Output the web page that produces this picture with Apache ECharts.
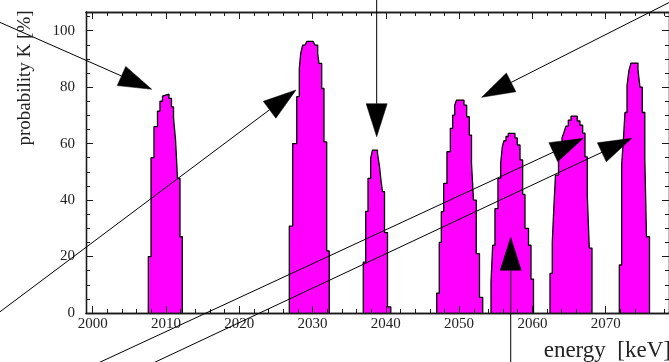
<!DOCTYPE html>
<html>
<head>
<meta charset="utf-8">
<script src="https://cdn.jsdelivr.net/npm/echarts@6/dist/echarts.min.js"></script>
<style>
html,body{margin:0;padding:0;background:#fff;}
#chart{width:669px;height:362px;}
</style>
</head>
<body>
<div id="chart"></div>
<script>
// ---- data (energy in keV, probability K in %) ----
const xTickLabels = [2000, 2010, 2020, 2030, 2040, 2050, 2060, 2070];
const yTickLabels = [0, 20, 40, 60, 80, 100];

const peak1Edges = [2007.59, 2007.96, 2008.36, 2008.84, 2009.18, 2009.52, 2009.73, 2010.41, 2010.75, 2011.03, 2011.30, 2011.57, 2011.91, 2012.23];
const peak1Heights = [20, 55, 66, 71.5, 75, 76.8, 77.5, 76, 73, 69, 61.5, 47.7, 27];

const peak2Edges = [2026.83, 2027.29, 2027.84, 2028.19, 2028.38, 2028.65, 2028.97, 2029.24, 2030.06, 2030.33, 2030.70, 2030.88, 2031.25, 2031.56, 2031.93, 2032.28];
const peak2Heights = [30.8, 60, 76.6, 86.6, 91.9, 94.9, 95.6, 96.2, 95.6, 94.9, 91.9, 88.4, 79.5, 60.6, 22];

const peak3Edges = [2036.92, 2037.25, 2037.57, 2037.93, 2038.18, 2038.86, 2039.13, 2039.34, 2039.54, 2039.82, 2040.23, 2040.68];
const peak3Heights = [18, 36, 47.7, 54.8, 57.7, 56.5, 52, 47, 43, 28.5, 2.2];

const peak4Edges = [2046.94, 2047.29, 2047.57, 2047.89, 2048.34, 2048.80, 2049.12, 2049.40, 2049.64, 2050.66, 2051.03, 2051.39, 2051.69, 2051.96, 2052.34, 2052.78, 2053.22];
const peak4Heights = [7, 25, 35.9, 45.9, 57.1, 65.4, 70.1, 73.6, 75.4, 73.6, 69.5, 63, 53, 40, 21, 5.5];

const peak5Edges = [2054.35, 2054.58, 2054.89, 2055.30, 2055.67, 2055.89, 2056.12, 2056.40, 2056.71, 2057.62, 2057.94, 2058.31, 2058.67, 2058.99, 2059.47, 2059.81, 2060.15];
const peak5Heights = [11, 24, 37, 47.7, 53, 58.9, 61, 62.5, 63.6, 62, 59.5, 54.2, 42, 30, 24, 12];

const peak6Edges = [2062.40, 2062.71, 2062.95, 2063.15, 2063.56, 2064.04, 2064.31, 2064.58, 2064.90, 2065.27, 2066.12, 2066.49, 2066.86, 2067.18, 2067.49, 2067.76, 2068.13];
const peak6Heights = [14, 25, 38.8, 48.8, 58.9, 62, 64, 66.2, 68.3, 69.7, 68, 66.5, 63.7, 55.3, 41.8, 23];

const peak7Edges = [2071.86, 2072.18, 2072.43, 2072.63, 2072.91, 2073.18, 2073.45, 2074.41, 2074.68, 2074.99, 2075.34, 2075.57, 2075.98];
const peak7Heights = [17, 52.5, 62, 71, 80.5, 86, 88.5, 86, 80, 71, 54.5, 27];

// annotation arrows: start and tip in data units (energy, probability)
const arrowStarts = [[1985.99, 104.48], [1986.67, -0.89], [2038.75, 112.62], [2080.14, 111.91], [2000.31, -18.24], [2007.82, -18.24], [2057.04, -18.42]];
const arrowTips   = [[2008.05, 79.22], [2027.74, 78.98], [2038.75, 62.44], [2053.08, 76.39], [2066.94, 61.87], [2073.55, 61.87], [2057.04, 26.81]];

const peaks = [
  [peak1Edges, peak1Heights], [peak2Edges, peak2Heights], [peak3Edges, peak3Heights],
  [peak4Edges, peak4Heights], [peak5Edges, peak5Heights], [peak6Edges, peak6Heights],
  [peak7Edges, peak7Heights]
];

// ---- chart ----
const X_MIN = 1999.086, X_MAX = 2078.64, Y_MIN = 0, Y_MAX = 106.6;
const FONT = '"Liberation Serif", "Times New Roman", serif';
const INK = '#1a1a1a';

// tick positions (major every 10 keV / 20 %, minor every 2 keV / 5 %)
const xMinorTicks = []; for (let v = 2000; v <= 2078; v += 2) xMinorTicks.push(v);
const yMinorTicks = []; for (let v = 0; v <= 105; v += 5) yMinorTicks.push(v);

// histogram outline: each bin gives a flat top from its left to right edge
function histPoints(edges, heights) {
  const pts = [[edges[0], 0]];
  for (let i = 0; i < heights.length; i++) {
    pts.push([edges[i], heights[i]]);
    pts.push([edges[i + 1], heights[i]]);
  }
  pts.push([edges[edges.length - 1], 0]);
  return pts;
}

function xAxisDef(pos, ticks, len, labels) {
  return {
    type: 'value', position: pos, min: X_MIN, max: X_MAX, z: 5,
    axisLine: { show: true, onZero: false, lineStyle: { color: INK, width: 1.3 } },
    axisTick: { show: true, inside: true, length: len, customValues: ticks, lineStyle: { color: INK, width: 1 } },
    axisLabel: labels ? {
      show: true, margin: 4, color: '#222', fontFamily: FONT, fontSize: 15,
      customValues: xTickLabels, formatter: v => String(Math.round(v))
    } : { show: false },
    splitLine: { show: false }
  };
}
function yAxisDef(pos, ticks, len, labels) {
  return {
    type: 'value', position: pos, min: Y_MIN, max: Y_MAX, z: 5,
    axisLine: { show: true, onZero: false, lineStyle: { color: INK, width: 1.3 } },
    axisTick: { show: true, inside: true, length: len, customValues: ticks, lineStyle: { color: INK, width: 1 } },
    axisLabel: labels ? {
      show: true, margin: 11, color: '#222', fontFamily: FONT, fontSize: 15,
      customValues: yTickLabels, formatter: v => String(Math.round(v))
    } : { show: false },
    splitLine: { show: false }
  };
}

const chart = echarts.init(document.getElementById('chart'), null, { renderer: 'canvas' });
chart.setOption({
  animation: false,
  backgroundColor: '#ffffff',
  grid: { left: 86, top: 12, width: 583, height: 301, containLabel: false },
  xAxis: [
    xAxisDef('bottom', xTickLabels, 7, true),
    xAxisDef('bottom', xMinorTicks, 4, false),
    xAxisDef('top', xTickLabels, 7, false),
    xAxisDef('top', xMinorTicks, 4, false)
  ],
  yAxis: [
    yAxisDef('left', yTickLabels, 7, true),
    yAxisDef('left', yMinorTicks, 4, false),
    yAxisDef('right', yTickLabels, 7, false),
    yAxisDef('right', yMinorTicks, 4, false)
  ],
  series: peaks.map(p => ({
    type: 'line', xAxisIndex: 0, yAxisIndex: 0, z: 2,
    showSymbol: false, symbol: 'none',
    lineStyle: { color: '#000', width: 1.3 },
    areaStyle: { color: '#ff00ff', opacity: 1 },
    data: histPoints(p[0], p[1])
  }))
});

// arrows and axis titles
const graphics = [];
const HEAD_LEN = 33, HEAD_HALF = 10.5;
for (let i = 0; i < arrowStarts.length; i++) {
  const s = chart.convertToPixel({ gridIndex: 0 }, arrowStarts[i]);
  const t = chart.convertToPixel({ gridIndex: 0 }, arrowTips[i]);
  const dx = t[0] - s[0], dy = t[1] - s[1];
  const L = Math.sqrt(dx * dx + dy * dy);
  const ux = dx / L, uy = dy / L;
  const bx = t[0] - ux * HEAD_LEN, by = t[1] - uy * HEAD_LEN;
  const nx = -uy, ny = ux;
  graphics.push({
    type: 'line', z: 20, silent: true,
    shape: { x1: s[0], y1: s[1], x2: bx, y2: by },
    style: { stroke: '#000', lineWidth: 1 }
  });
  graphics.push({
    type: 'polygon', z: 21, silent: true,
    shape: { points: [[t[0], t[1]], [bx + nx * HEAD_HALF, by + ny * HEAD_HALF], [bx - nx * HEAD_HALF, by - ny * HEAD_HALF]] },
    style: { fill: '#000', stroke: '#000', lineWidth: 0.5 }
  });
}
graphics.push({
  type: 'text', z: 20, x: 25, y: 78, rotation: Math.PI / 2,
  style: { text: 'probability K [%]', fill: '#222', font: '19px ' + FONT, textAlign: 'center', textVerticalAlign: 'middle' }
});
graphics.push({
  type: 'text', z: 20, x: 671, y: 351,
  style: { text: 'energy  [keV]', fill: '#222', font: '23px ' + FONT, textAlign: 'right', textVerticalAlign: 'middle' }
});
chart.setOption({ graphic: graphics });
</script>
</body>
</html>
